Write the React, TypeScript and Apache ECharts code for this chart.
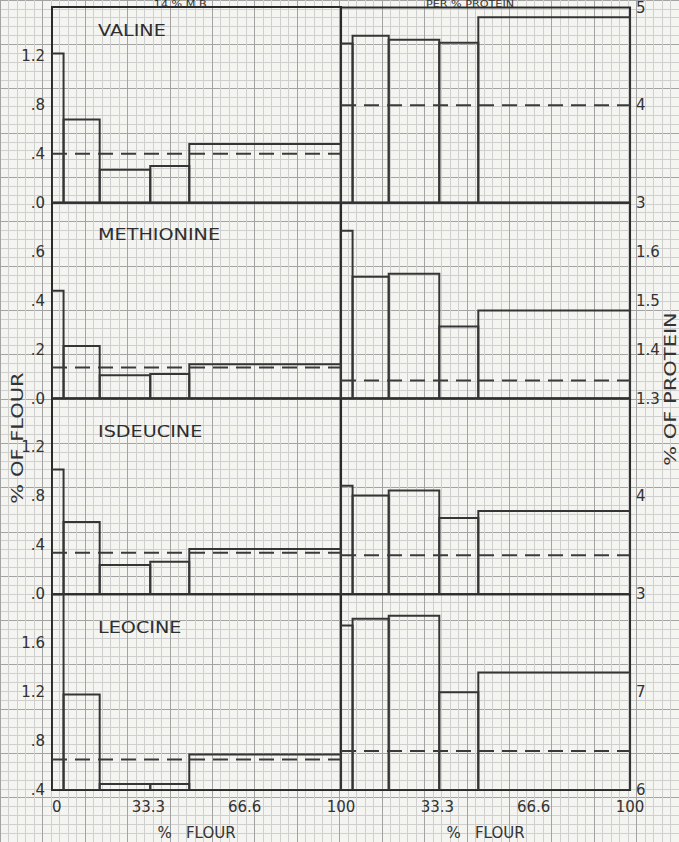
import React, { useEffect, useRef } from "react";
import * as echarts from "echarts";

// fraction boundaries (% of flour)
const EDGES = [0, 4, 16.5, 34, 47.5, 100];

const valineFlour = [1.22, 0.68, 0.27, 0.3, 0.48];
const valineFlourAvg = 0.4;
const valineProtein = [4.63, 4.71, 4.67, 4.64, 4.9];
const valineProteinAvg = 4.0;

const methionineFlour = [0.44, 0.215, 0.095, 0.1, 0.14];
const methionineFlourAvg = 0.127;
const methionineProtein = [1.643, 1.549, 1.555, 1.447, 1.48];
const methionineProteinAvg = 1.337;

const isoleucineFlour = [1.02, 0.59, 0.24, 0.265, 0.37];
const isoleucineFlourAvg = 0.34;
const isoleucineProtein = [4.11, 4.01, 4.06, 3.78, 3.85];
const isoleucineProteinAvg = 3.4;

const leucineFlour = [2.0, 1.18, 0.45, 0.45, 0.69];
const leucineFlourAvg = 0.65;
const leucineProtein = [7.68, 7.75, 7.78, 7.0, 7.2];
const leucineProteinAvg = 6.4;

const rowNames = ["VALINE", "METHIONINE", "ISDEUCINE", "LEOCINE"];
const flourAxisMin = [0, 0, 0, 0.4];
const flourAxisMax = [1.6, 0.8, 1.6, 2.0];
const flourAxisStep = [0.4, 0.2, 0.4, 0.4];
const proteinAxisMin = [3, 1.3, 3, 6];
const proteinAxisMax = [5, 1.7, 5, 8];
const proteinAxisStep = [1, 0.1, 1, 1];
const xTickLabels = ["0", "33.3", "66.6", "100"];

const flourRows = [valineFlour, methionineFlour, isoleucineFlour, leucineFlour];
const flourAvgs = [valineFlourAvg, methionineFlourAvg, isoleucineFlourAvg, leucineFlourAvg];
const proteinRows = [valineProtein, methionineProtein, isoleucineProtein, leucineProtein];
const proteinAvgs = [valineProteinAvg, methionineProteinAvg, isoleucineProteinAvg, leucineProteinAvg];

const X0 = 52;
const Y0 = 7;
const MW = 48.17;
const MH = 48.94;
const INK = "#333333";
const FONT = "DejaVu Sans";

export default function App() {
  const ref = useRef<HTMLDivElement>(null);
  useEffect(() => {
    if (!ref.current) return;
    const chart = echarts.init(ref.current, null, { renderer: "svg" });

    const grids: any[] = [];
    const xAxes: any[] = [];
    const yAxes: any[] = [];
    const series: any[] = [];

    // graph paper background
    grids.push({ left: X0 - 2 * MW, top: Y0 - MH, width: 16 * MW, height: 19 * MH, show: false, z: -20 });
    const paperAxis = {
      type: "value", interval: 1, z: -20,
      axisLine: { show: false }, axisTick: { show: false }, axisLabel: { show: false },
      splitLine: { show: true, lineStyle: { color: "#a3a3a3", width: 1 } },
      minorTick: { show: false, splitNumber: 5 },
      minorSplitLine: { show: true, lineStyle: { color: "#cfcfcf", width: 1 } },
    };
    xAxes.push({ ...paperAxis, gridIndex: 0, min: -2, max: 14 });
    yAxes.push({ ...paperAxis, gridIndex: 0, min: -1, max: 18, inverse: true });

    for (let r = 0; r < 4; r++) {
      for (let c = 0; c < 2; c++) {
        const gi = grids.length;
        grids.push({
          left: X0 + c * 6 * MW, top: Y0 + r * 4 * MH, width: 6 * MW, height: 4 * MH,
          show: true, borderColor: "#2a2a2a", borderWidth: 2, backgroundColor: "transparent", z: 5,
        });
        const bottom = r === 3;
        xAxes.push({
          gridIndex: gi, type: "value", min: 0, max: 100, interval: 100 / 3, z: 5,
          axisLine: { show: false }, axisTick: { show: false }, splitLine: { show: false },
          axisLabel: {
            show: bottom, margin: 9, fontSize: 15, color: INK, fontFamily: FONT,
            alignMinLabel: c === 0 ? "left" : "center",
            formatter: (v: number) => {
              const i = Math.round(v / (100 / 3));
              if (c === 1 && i === 0) return "";
              return xTickLabels[i];
            },
          },
          name: bottom ? "%   FLOUR" : "", nameLocation: "middle", nameGap: 35,
          nameTextStyle: { fontSize: 15, color: INK, fontFamily: FONT },
        });
        const mn = c === 0 ? flourAxisMin[r] : proteinAxisMin[r];
        const mx = c === 0 ? flourAxisMax[r] : proteinAxisMax[r];
        const st = c === 0 ? flourAxisStep[r] : proteinAxisStep[r];
        yAxes.push({
          gridIndex: gi, type: "value", min: mn, max: mx, interval: st, z: 5,
          position: c === 0 ? "left" : "right",
          axisLine: { show: false }, axisTick: { show: false }, splitLine: { show: false },
          axisLabel: {
            margin: c === 0 ? 7 : 6, fontSize: 15, color: INK, fontFamily: FONT,
            formatter: (v: number) => {
              const atTop = Math.abs(v - mx) < 1e-6;
              if (atTop && !(c === 1 && r === 0)) return "";
              if (c === 0) return v < 1 ? "." + Math.round(v * 10) : v.toFixed(1);
              return st < 1 ? v.toFixed(1) : String(Math.round(v));
            },
          },
        });
        const vals = c === 0 ? flourRows[r] : proteinRows[r];
        const avg = c === 0 ? flourAvgs[r] : proteinAvgs[r];
        const data = vals.map((v, i) => [EDGES[i], EDGES[i + 1], v]);
        const base = mn;
        series.push({
          type: "custom", xAxisIndex: gi, yAxisIndex: gi, clip: true, z: 6,
          encode: { x: [0, 1], y: 2 },
          data,
          renderItem: (params: any, api: any) => {
            const p0 = api.coord([api.value(0), api.value(2)]);
            const p1 = api.coord([api.value(1), base]);
            return {
              type: "rect",
              shape: { x: p0[0], y: p0[1], width: p1[0] - p0[0], height: p1[1] - p0[1] },
              style: { fill: "none", stroke: "#353535", lineWidth: 2 },
            };
          },
        });
        series.push({
          type: "line", xAxisIndex: gi, yAxisIndex: gi, symbol: "none", z: 6,
          data: [[0, avg], [100, avg]],
          lineStyle: { color: "#3a3a3a", width: 2, type: [15, 8] },
        });
      }
    }

    const rowLabelY = [31, 235, 432, 628];
    const graphic: any[] = rowNames.map((t, i) => ({
      type: "text", x: 98, y: rowLabelY[i], scaleX: 1.2, z: 10,
      style: { text: t, fontSize: 16, fontFamily: FONT, fill: "#2e2e2e", align: "left", verticalAlign: "middle" },
    }));
    graphic.push({
      type: "text", x: 18, y: 438, rotation: Math.PI / 2, scaleX: 1.4, z: 10,
      style: { text: "% OF FLOUR", fontSize: 15, fontFamily: FONT, fill: INK, align: "center", verticalAlign: "middle" },
    });
    graphic.push({
      type: "text", x: 671, y: 389, rotation: Math.PI / 2, scaleX: 1.4, z: 10,
      style: { text: "% OF PROTEIN", fontSize: 15, fontFamily: FONT, fill: INK, align: "center", verticalAlign: "middle" },
    });
    graphic.push({
      type: "text", x: 182, y: 0, scaleX: 1.4, z: 10,
      style: { text: "14 % M.B.", fontSize: 8, fontFamily: FONT, fill: INK, align: "center", verticalAlign: "top" },
    });
    graphic.push({
      type: "text", x: 470, y: 0, scaleX: 1.4, z: 10,
      style: { text: "PER % PROTEIN", fontSize: 8, fontFamily: FONT, fill: INK, align: "center", verticalAlign: "top" },
    });

    chart.setOption({
      animation: false,
      backgroundColor: "#f4f4f1",
      grid: grids,
      xAxis: xAxes,
      yAxis: yAxes,
      series,
      graphic,
    });
    return () => chart.dispose();
  }, []);
  return (
    <div
      ref={ref}
      style={{ position: "fixed", left: 0, top: 0, width: 679, height: 842 }}
    />
  );
}
